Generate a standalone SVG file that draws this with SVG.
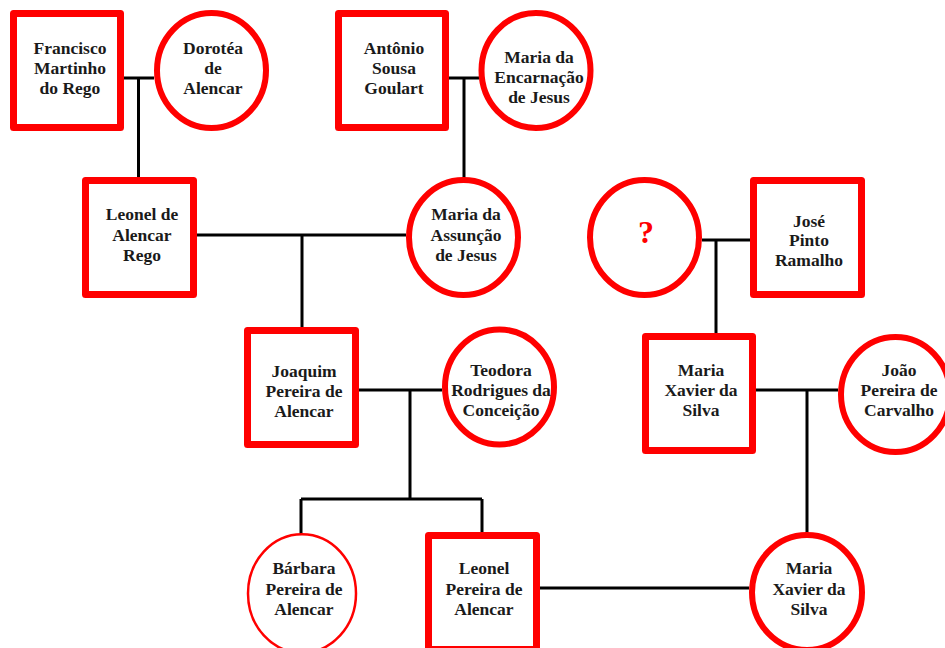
<svg xmlns="http://www.w3.org/2000/svg" width="945" height="648" viewBox="0 0 945 648">
  <style>
    .box { fill: #ffffff; stroke: #ff0000; stroke-width: 7; stroke-linejoin: round; }
    .oval { fill: #ffffff; stroke: #ff0000; stroke-width: 6; }
    .thin { fill: #ffffff; stroke: #ff0000; stroke-width: 2.5; }
    .link { fill: none; stroke: #000000; stroke-width: 3; }
    text { font-family: "Liberation Serif", "Times New Roman", serif; font-weight: bold; font-size: 17.5px; fill: #1a1a1a; text-anchor: middle; }
    .unknown { font-size: 32px; fill: #ff0000; }
  </style>

  <rect width="945" height="648" fill="#ffffff"/>

  <!-- couple and descent lines -->
  <g id="connectors">
    <path class="link" d="M124 78 H154 M138.5 78 V180"/>
    <path class="link" d="M449 78 H479 M464 78 V180"/>
    <path class="link" d="M197 235 H406 M302 235 V330"/>
    <path class="link" d="M702 240 H750 M716 240 V336"/>
    <path class="link" d="M359 390 H442 M410 390 V499"/>
    <path class="link" d="M301 499 H482 M301 499 V534 M482 499 V535"/>
    <path class="link" d="M756 390 H838 M807 390 V535"/>
    <path class="link" d="M540 588 H749"/>
  </g>

  <g id="francisco">
    <rect class="box" x="13.5" y="13.5" width="107" height="114"/>
    <text x="70" y="54">Francisco</text>
    <text x="70" y="74">Martinho</text>
    <text x="70" y="94">do Rego</text>
  </g>

  <g id="dorotea">
    <ellipse class="oval" cx="211.5" cy="70.5" rx="54.5" ry="57.5"/>
    <text x="213" y="54">Dorotéa</text>
    <text x="213" y="74">de</text>
    <text x="213" y="94">Alencar</text>
  </g>

  <g id="antonio">
    <rect class="box" x="338.5" y="13.5" width="107" height="114"/>
    <text x="394" y="54">Antônio</text>
    <text x="394" y="74">Sousa</text>
    <text x="394" y="94">Goulart</text>
  </g>

  <g id="maria-encarnacao">
    <ellipse class="oval" cx="536" cy="70.5" rx="54.5" ry="57.5"/>
    <text x="539" y="63">Maria da</text>
    <text x="539" y="83">Encarnação</text>
    <text x="539" y="103">de Jesus</text>
  </g>

  <g id="leonel-alencar-rego">
    <rect class="box" x="85.5" y="180.5" width="108" height="114"/>
    <text x="142" y="220">Leonel de</text>
    <text x="142" y="240.5">Alencar</text>
    <text x="142" y="260.5">Rego</text>
  </g>

  <g id="maria-assuncao">
    <ellipse class="oval" cx="463.5" cy="237.5" rx="54.5" ry="57.5"/>
    <text x="466" y="220">Maria da</text>
    <text x="466" y="240.5">Assunção</text>
    <text x="466" y="260.5">de Jesus</text>
  </g>

  <g id="unknown">
    <ellipse class="oval" cx="644.5" cy="237.5" rx="54.5" ry="57.5"/>
    <text class="unknown" x="646" y="243">?</text>
  </g>

  <g id="jose">
    <rect class="box" x="753.5" y="180.5" width="108" height="114"/>
    <text x="809" y="226.5">José</text>
    <text x="809" y="246">Pinto</text>
    <text x="809" y="266">Ramalho</text>
  </g>

  <g id="joaquim">
    <rect class="box" x="247.5" y="330.5" width="108" height="114"/>
    <text x="304" y="376.5">Joaquim</text>
    <text x="304" y="396.5">Pereira de</text>
    <text x="304" y="416.5">Alencar</text>
  </g>

  <g id="teodora">
    <ellipse class="oval" cx="499.5" cy="387" rx="54.5" ry="57.5"/>
    <text x="501" y="376">Teodora</text>
    <text x="501" y="396">Rodrigues da</text>
    <text x="501" y="416">Conceição</text>
  </g>

  <g id="maria-xavier-mother">
    <rect class="box" x="645.5" y="336.5" width="107" height="114"/>
    <text x="701" y="376">Maria</text>
    <text x="701" y="396">Xavier da</text>
    <text x="701" y="416">Silva</text>
  </g>

  <g id="joao">
    <ellipse class="oval" cx="895.5" cy="394.5" rx="54.5" ry="57.5"/>
    <text x="899" y="376">João</text>
    <text x="899" y="396">Pereira de</text>
    <text x="899" y="416">Carvalho</text>
  </g>

  <g id="barbara">
    <ellipse class="thin" cx="302" cy="593.5" rx="54" ry="59.25"/>
    <text x="304" y="574">Bárbara</text>
    <text x="304" y="595">Pereira de</text>
    <text x="304" y="615">Alencar</text>
  </g>

  <g id="leonel-pereira">
    <rect class="box" x="428.5" y="535.5" width="108" height="114"/>
    <text x="484" y="574">Leonel</text>
    <text x="484" y="595">Pereira de</text>
    <text x="484" y="615">Alencar</text>
  </g>

  <g id="maria-xavier-wife">
    <ellipse class="oval" cx="807" cy="592.5" rx="55" ry="57.5"/>
    <text x="809" y="574">Maria</text>
    <text x="809" y="595">Xavier da</text>
    <text x="809" y="615">Silva</text>
  </g>
</svg>
